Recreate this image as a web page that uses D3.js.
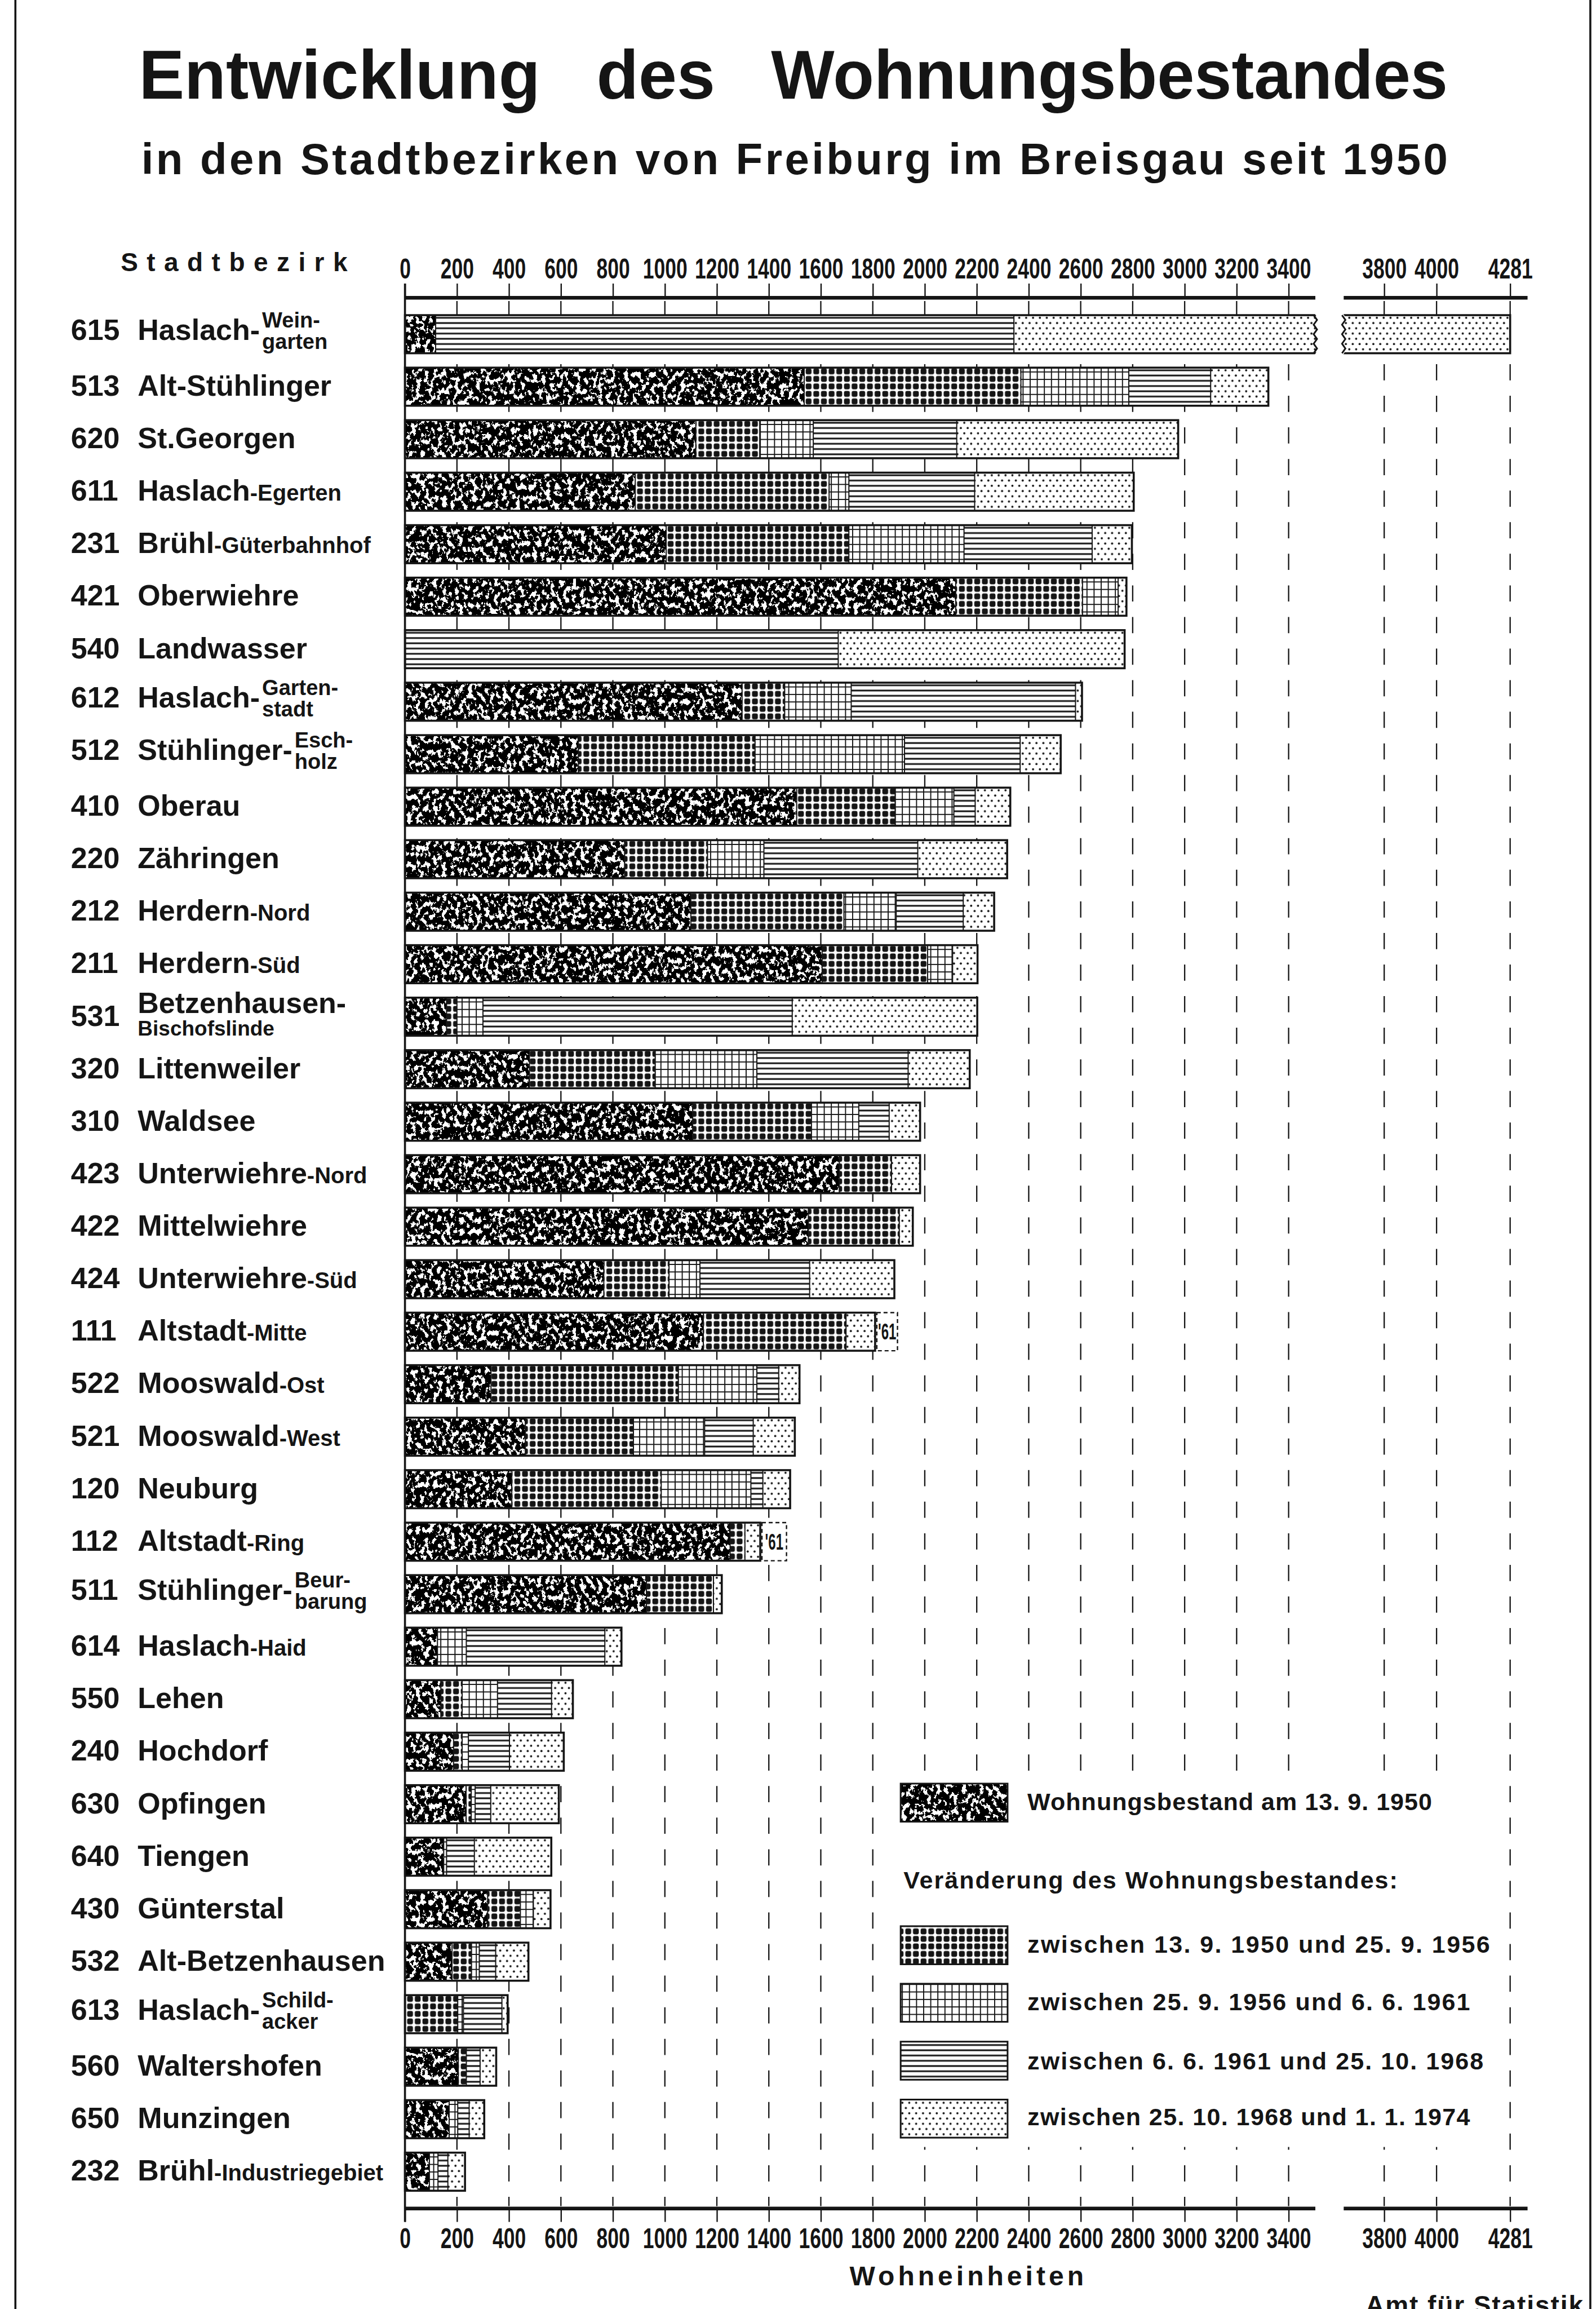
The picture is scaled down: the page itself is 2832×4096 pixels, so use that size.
<!DOCTYPE html>
<html>
<head>
<meta charset="utf-8">
<script src="https://cdn.jsdelivr.net/npm/d3@7/dist/d3.min.js"></script>
<style>
  html, body { margin: 0; padding: 0; background: #fff; }
  svg { display: block; }
  text { font-family: "Liberation Sans", Arial, Helvetica, sans-serif; font-weight: bold; fill: #151515; }
</style>
</head>
<body>
<svg id="chart"></svg>
<script>
"use strict";

// ---- data ----
var codes = ["615","513","620","611","231","421","540","612","512","410","220","212",
             "211","531","320","310","423","422","424","111","522","521","120","112",
             "511","614","550","240","630","640","430","532","613","560","650","232"];
var names = ["Haslach-","Alt-Stühlinger","St.Georgen","Haslach","Brühl","Oberwiehre",
             "Landwasser","Haslach-","Stühlinger-","Oberau","Zähringen","Herdern",
             "Herdern","Betzenhausen-","Littenweiler","Waldsee","Unterwiehre","Mittelwiehre",
             "Unterwiehre","Altstadt","Mooswald","Mooswald","Neuburg","Altstadt",
             "Stühlinger-","Haslach","Lehen","Hochdorf","Opfingen","Tiengen",
             "Günterstal","Alt-Betzenhausen","Haslach-","Waltershofen","Munzingen","Brühl"];
// "a|b" = two small lines after the name, "/x" = small second line, else small suffix
var parts = ["Wein-|garten","","","-Egerten","-Güterbahnhof","","","Garten-|stadt",
             "Esch-|holz","","","-Nord","-Süd","/Bischofslinde","","","-Nord","","-Süd",
             "-Mitte","-Ost","-West","","-Ring","Beur-|barung","-Haid","","","","","","",
             "Schild-|acker","","","-Industriegebiet"];

// dwellings on 13.9.1950 and the change in each later period
var stock1950 = [118,1536,1119,886,1005,2119,0,1297,667,1507,845,1100,1605,160,479,1107,
                 1671,1552,765,1148,331,463,411,1251,929,125,138,187,235,149,318,181,0,205,170,94];
var chg5056 = [0,834,246,746,703,488,0,164,680,379,319,589,406,40,484,457,201,350,251,549,
               721,416,575,57,258,0,82,33,20,0,126,75,203,31,0,0];
var chg5661 = [0,415,206,76,443,137,0,256,575,226,217,201,96,100,391,182,0,0,119,0,302,274,
               345,0,0,111,136,24,15,11,50,30,22,0,33,33];
var chg6168 = [2225,315,552,484,493,0,1667,863,445,82,592,258,0,1190,582,117,0,0,422,0,84,
               187,46,0,0,533,208,158,60,107,0,63,148,53,44,38];
var chg6874 = [1938,222,852,612,153,32,1102,25,156,135,344,119,96,712,237,119,110,52,326,112,
               80,160,105,59,32,64,82,209,262,296,66,126,22,62,58,66];

// dashed "'61" boxes
var noteCodes = ["111","112"];
var noteEnds = [1895, 1468];

var tickValues = [0,200,400,600,800,1000,1200,1400,1600,1800,2000,2200,2400,2600,2800,
                  3000,3200,3400,3800,4000,4281];

var legendLabels = ["Wohnungsbestand  am  13. 9. 1950",
                    "zwischen  13. 9. 1950  und  25. 9. 1956",
                    "zwischen  25. 9. 1956  und  6. 6. 1961",
                    "zwischen  6. 6. 1961  und  25. 10. 1968",
                    "zwischen  25. 10. 1968  und  1. 1. 1974"];

// ---- layout ----
var W = 2832, H = 4096;
var s = W / 3941;            // reference pixels -> page pixels
var ink = "#151515";
var narrow = "scale(0.71,1)"; // condensed figures of the print

var svg = d3.select("#chart").attr("width", W).attr("height", H);
svg.append("rect").attr("width", W).attr("height", H).attr("fill", "#fff");
var defs = svg.append("defs");

// broken x axis: 3400..3800 is squeezed into the gap
var x = d3.scaleLinear()
  .domain([0, 3400, 3800, 4281])
  .range([1000 * s, 3182 * s, 3418 * s, 3729 * s]);

var y = d3.scaleBand()
  .domain(codes)
  .range([760.2 * s, (760.2 + codes.length * 129.6) * s])
  .paddingInner(0.2747)
  .paddingOuter(0.1373);
var bw = y.bandwidth(), step = y.step();
var top0 = y(codes[0]);

/*
 * fill patterns
 */
function pattern(id, w, h) {
  var p = defs.append("pattern").attr("id", id)
    .attr("patternUnits", "userSpaceOnUse")
    .attr("width", w).attr("height", h).attr("y", top0);
  p.append("rect").attr("width", w).attr("height", h).attr("fill", "#fff");
  return p;
}
var pd = pattern("pDotgrid", 13.6, step / 7);
pd.append("rect").attr("x", 1.6).attr("y", 1.5).attr("width", 10.4).attr("height", 10.3)
  .attr("rx", 3.2).attr("fill", ink);

var pg = pattern("pGrid", 12.6, step / 7);
pg.append("rect").attr("x", 0).attr("width", 1.9).attr("height", step / 7).attr("fill", ink);
pg.append("rect").attr("y", step / 14).attr("width", 12.6).attr("height", 1.9).attr("fill", ink);

var pl = pattern("pLines", 10, step / 10);
pl.append("rect").attr("y", step / 20 - 1.5).attr("width", 10).attr("height", 3).attr("fill", ink);

var pt = pattern("pDots", 12.2, step / 5);
pt.append("circle").attr("cx", 3.05).attr("cy", step / 20).attr("r", 1.9).attr("fill", ink);
pt.append("circle").attr("cx", 9.15).attr("cy", step * 3 / 20).attr("r", 1.9).attr("fill", ink);

// the mottled print of the 1950 stock
var mf = defs.append("filter").attr("id", "mottle")
  .attr("x", 0).attr("y", 0).attr("width", 1).attr("height", 1)
  .attr("color-interpolation-filters", "sRGB");
mf.append("feTurbulence").attr("type", "fractalNoise").attr("baseFrequency", "0.13 0.1")
  .attr("numOctaves", 4).attr("seed", 7).attr("result", "n");
mf.append("feColorMatrix").attr("in", "n").attr("type", "matrix")
  .attr("values", "1 0 0 0 0  1 0 0 0 0  1 0 0 0 0  0 0 0 0 1").attr("result", "g");
var thr = d3.range(25).map(function(k) { return k < 14 ? 0 : 1; }).join(" ");
var ct = mf.append("feComponentTransfer").attr("in", "g").attr("result", "t");
["feFuncR", "feFuncG", "feFuncB"].forEach(function(f) {
  ct.append(f).attr("type", "discrete").attr("tableValues", thr);
});
mf.append("feComposite").attr("in", "t").attr("in2", "SourceGraphic").attr("operator", "in");

var keys = ["s1950", "c5056", "c5661", "c6168", "c6874"];
var fills = ["#000", "url(#pDotgrid)", "url(#pGrid)", "url(#pLines)", "url(#pDots)"];

function paint(sel, k) {
  sel.attr("fill", fills[k]);
  if (k === 0) sel.attr("filter", "url(#mottle)");
}

/*
 * dashed grid lines
 */
svg.append("g").selectAll("line")
  .data(tickValues.filter(function(t) { return t > 0; }))
  .join("line")
    .attr("x1", x).attr("x2", x)
    .attr("y1", 743 * s).attr("y2", 5446 * s)
    .attr("stroke", ink).attr("stroke-width", 2.3)
    .attr("stroke-dasharray", (40 * s) + " " + (38 * s));

// legend sits on a blank patch
var lg = svg.append("g");
lg.append("rect").attr("x", 2168 * s).attr("y", 4372 * s)
  .attr("width", (3718 - 2168) * s).attr("height", (5300 - 4372) * s).attr("fill", "#fff");

/*
 * bars
 */
var table = codes.map(function(c, i) {
  return { code: c, s1950: stock1950[i], c5056: chg5056[i], c5661: chg5661[i],
           c6168: chg6168[i], c6874: chg6874[i] };
});
var series = d3.stack().keys(keys)(table);
var bars = svg.append("g");

series.forEach(function(ser, k) {
  bars.append("g").selectAll("rect")
    .data(ser.filter(function(d) { return d[1] > d[0]; }))
    .join("rect")
      .attr("x", function(d) { return x(d[0]); })
      .attr("y", function(d) { return y(d.data.code); })
      .attr("width", function(d) { return x(d[1]) - x(d[0]); })
      .attr("height", bw)
      .call(paint, k);
});
// segment borders
series.slice(0, 4).forEach(function(ser) {
  bars.append("g").selectAll("line")
    .data(ser.filter(function(d) { return d[1] > d[0]; }))
    .join("line")
      .attr("x1", function(d) { return x(d[1]); })
      .attr("x2", function(d) { return x(d[1]); })
      .attr("y1", function(d) { return y(d.data.code); })
      .attr("y2", function(d) { return y(d.data.code) + bw; })
      .attr("stroke", ink).attr("stroke-width", 2);
});
var last = series[series.length - 1];
bars.append("g").selectAll("rect")
  .data(last)
  .join("rect")
    .attr("x", x(0))
    .attr("y", function(d) { return y(d.data.code); })
    .attr("width", function(d) { return x(d[1]) - x(0); })
    .attr("height", bw)
    .attr("fill", "none").attr("stroke", ink).attr("stroke-width", 3.6);

// break in the longest bar
function wave(x0, ya, yb, n, amp) {
  var pts = [];
  for (var j = 0; j <= n * 2; j++)
    pts.push([x0 + (j % 2 ? amp : -amp), ya + (yb - ya) * j / (n * 2)]);
  return pts;
}
var xL = 3248 * s, xR = 3318 * s, yb0 = y(codes[0]);
bars.append("path")
  .attr("d", d3.line()(wave(xL, yb0 - 6, yb0 + bw + 6, 4, 3)
      .concat(wave(xR, yb0 - 6, yb0 + bw + 6, 4, 3).reverse())) + "Z")
  .attr("fill", "#fff");
bars.selectAll(".edge")
  .data([wave(xL, yb0, yb0 + bw, 4, 3), wave(xR, yb0, yb0 + bw, 4, 3)])
  .join("path").attr("class", "edge")
    .attr("d", d3.line())
    .attr("fill", "none").attr("stroke", ink).attr("stroke-width", 3);

// dashed '61 boxes
noteCodes.forEach(function(c, i) {
  var j = codes.indexOf(c), x0 = x(last[j][1]) + 3, x1 = x(noteEnds[i]);
  bars.append("rect").attr("x", x0).attr("y", y(c)).attr("width", x1 - x0).attr("height", bw)
    .attr("fill", "#fff").attr("stroke", ink).attr("stroke-width", 2.4)
    .attr("stroke-dasharray", "7 5");
  bars.append("text")
    .attr("transform", "translate(" + ((x0 + x1) / 2) + "," + (y(c) + bw / 2 + 14) + ") scale(0.6,1)")
    .attr("text-anchor", "middle").attr("font-size", 40).text("'61");
});

/*
 * axes
 */
function styleAxis(g, baseline) {
  g.attr("font-family", null).attr("font-size", null);
  g.select(".domain").remove();
  g.selectAll(".tick line").attr("stroke", ink).attr("stroke-width", 2.4);
  g.selectAll(".tick text")
    .attr("font-size", 50).attr("fill", null)
    .attr("y", null).attr("dy", null)
    .attr("transform", "translate(0," + baseline + ") " + narrow);
}
var axTop = svg.append("g").attr("transform", "translate(0," + (735 * s) + ")")
  .call(d3.axisTop(x).tickValues(tickValues).tickSize(35 * s).tickFormat(String));
styleAxis(axTop, -47 * s);
var axBot = svg.append("g").attr("transform", "translate(0," + (5452 * s) + ")")
  .call(d3.axisBottom(x).tickValues(tickValues).tickSize(33 * s).tickFormat(String));
styleAxis(axBot, 98 * s);

[735, 5452].forEach(function(ya) {
  svg.append("g").selectAll("line")
    .data([[x(0), xL], [xR, 3772 * s]])
    .join("line")
      .attr("x1", function(d) { return d[0]; }).attr("x2", function(d) { return d[1]; })
      .attr("y1", ya * s).attr("y2", ya * s)
      .attr("stroke", ink).attr("stroke-width", 6.5);
});
svg.append("line").attr("x1", x(0)).attr("x2", x(0))
  .attr("y1", 700 * s).attr("y2", 5485 * s)
  .attr("stroke", ink).attr("stroke-width", 3.6);

// frame
[38, 3927].forEach(function(xx) {
  svg.append("line").attr("x1", xx * s).attr("x2", xx * s).attr("y1", 0).attr("y2", H)
    .attr("stroke", ink).attr("stroke-width", 3.6);
});

/*
 * row labels
 */
var lab = svg.append("g");
codes.forEach(function(c, i) {
  var cy = y(c) + bw / 2;
  var p = parts[i];
  var stacked = p.indexOf("|") >= 0, second = p.charAt(0) === "/";
  var base = cy + (stacked ? 10 : 16);
  lab.append("text").attr("x", 175 * s).attr("y", base).attr("font-size", 52).text(c);
  var t = lab.append("text").attr("x", 340 * s).attr("y", second ? cy - 7 : base)
    .attr("font-size", 52).text(names[i]);
  if (!p) return;
  if (stacked) {
    var xs = 340 * s + t.node().getComputedTextLength() + 4;
    var pp = p.split("|");
    lab.append("text").attr("x", xs).attr("y", base - 22).attr("font-size", 38).text(pp[0]);
    lab.append("text").attr("x", xs).attr("y", base + 16).attr("font-size", 38).text(pp[1]);
  } else if (second) {
    lab.append("text").attr("x", 340 * s).attr("y", cy + 33).attr("font-size", 37).text(p.slice(1));
  } else {
    t.append("tspan").attr("font-size", 40).text(p);
  }
});

lab.append("text").attr("x", 298 * s).attr("y", 670 * s).attr("font-size", 46)
  .attr("textLength", (858 - 298) * s).attr("lengthAdjust", "spacing").text("Stadtbezirk");

/*
 * titles
 */
var ttl = svg.append("g");
[["Entwicklung", 343, 1334], ["des", 1473, 1766], ["Wohnungsbestandes", 1904, 3575]]
  .forEach(function(w) {
    ttl.append("text").attr("x", w[1] * s).attr("y", 243 * s).attr("font-size", 122)
      .attr("textLength", (w[2] - w[1]) * s).attr("lengthAdjust", "spacingAndGlyphs").text(w[0]);
  });
ttl.append("text").attr("x", 349 * s).attr("y", 430 * s).attr("font-size", 78)
  .attr("textLength", (3575 - 349) * s).attr("lengthAdjust", "spacing")
  .text("in den Stadtbezirken von Freiburg im Breisgau seit 1950");

ttl.append("text").attr("x", 2098 * s).attr("y", 5642 * s).attr("font-size", 48)
  .attr("textLength", (2676 - 2098) * s).attr("lengthAdjust", "spacing").text("Wohneinheiten");
ttl.append("text").attr("x", 3372 * s).attr("y", 5712 * s).attr("font-size", 46)
  .attr("textLength", (3909 - 3372) * s).attr("lengthAdjust", "spacing").text("Amt für Statistik");

/*
 * legend
 */
var swY = [4403, 4755, 4897, 5040, 5183];
var txY = [4468, 4820, 4963, 5108, 5247];
var txR = [3536, 3679, 3630, 3663, 3630];
keys.forEach(function(k, i) {
  lg.append("rect").attr("x", 2224 * s).attr("y", swY[i] * s)
    .attr("width", 264 * s).attr("height", 94 * s).call(paint, i);
  lg.append("rect").attr("x", 2224 * s).attr("y", swY[i] * s)
    .attr("width", 264 * s).attr("height", 94 * s)
    .attr("fill", "none").attr("stroke", ink).attr("stroke-width", 3);
  lg.append("text").attr("x", 2537 * s).attr("y", txY[i] * s).attr("font-size", 43)
    .attr("textLength", (txR[i] - 2537) * s).attr("lengthAdjust", "spacing")
    .text(legendLabels[i]);
});
lg.append("text").attr("x", 2231 * s).attr("y", 4662 * s).attr("font-size", 43)
  .attr("textLength", (3451 - 2231) * s).attr("lengthAdjust", "spacing")
  .text("Veränderung  des  Wohnungsbestandes:");
</script>
</body>
</html>
